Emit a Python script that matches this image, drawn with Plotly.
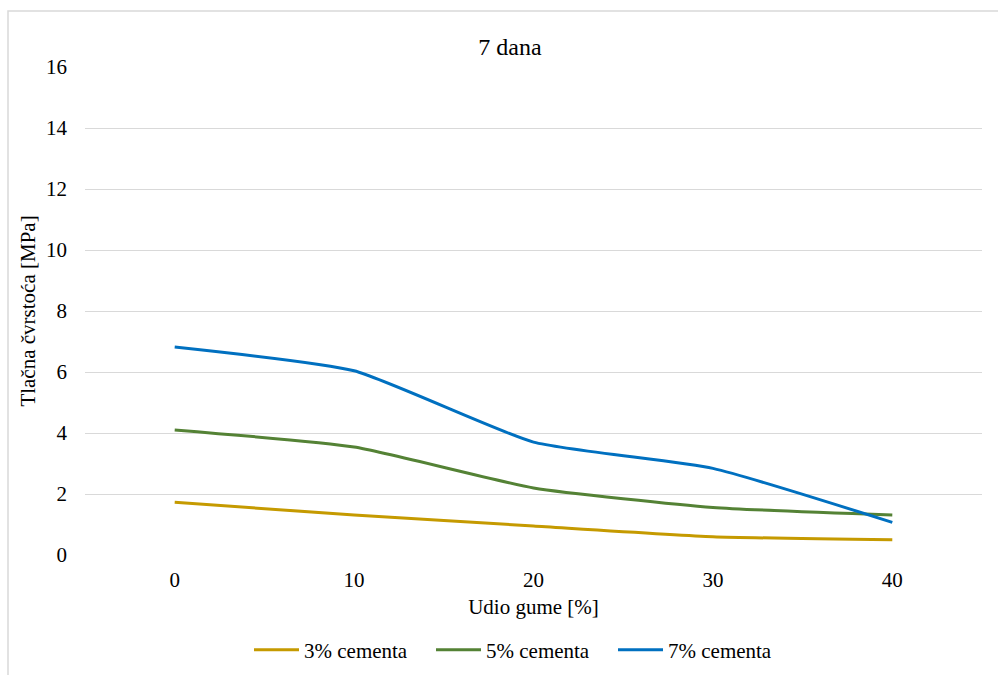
import plotly.graph_objects as go

udio_gume = [0, 10, 20, 30, 40]
cement_3 = [1.73, 1.31, 0.95, 0.60, 0.50]
cement_5 = [4.10, 3.54, 2.20, 1.56, 1.31]
cement_7 = [6.82, 6.04, 3.70, 2.84, 1.07]
series_names = ["3% cementa", "5% cementa", "7% cementa"]
series_colors = ["#C59A00", "#548235", "#0070C0"]
y_ticks = [0, 2, 4, 6, 8, 10, 12, 14, 16]

FONT = "Liberation Serif"
FS = 21

fig = go.Figure()
for name, vals, col in zip(series_names, [cement_3, cement_5, cement_7], series_colors):
    fig.add_trace(go.Scatter(
        x=udio_gume, y=vals, name=name, mode="lines",
        line=dict(color=col, width=3, shape="spline", smoothing=0.5),
    ))

L, R, T, B = 85, 16, 67, 120
W, H = 998, 675
pw, ph = W - L - R, H - T - B

fig.update_layout(
    width=W, height=H,
    margin=dict(l=L, r=R, t=T, b=B, pad=0, autoexpand=False),
    paper_bgcolor="white", plot_bgcolor="white",
    font=dict(family=FONT, size=FS, color="#000000"),
    title=dict(text="7 dana", x=510 / W, xanchor="center",
               xref="container", yref="container",
               y=1 - 47 / H, yanchor="middle",
               font=dict(family=FONT, size=24, color="#000000")),
    showlegend=True,
    legend=dict(orientation="h", xref="container", yref="container",
                x=522 / W, xanchor="center",
                y=1 - 650 / H, yanchor="middle",
                font=dict(family=FONT, size=FS, color="#000000"),
                itemwidth=45, entrywidth=122, tracegroupgap=0,
                bgcolor="rgba(0,0,0,0)"),
    xaxis=dict(range=[-5, 45], tickvals=udio_gume, ticktext=[str(v) for v in udio_gume],
               showgrid=False, zeroline=False, showline=False, ticks="",
               automargin=False,
               ticklabelstandoff=10,
               title=dict(text="Udio gume [%]", standoff=8,
                          font=dict(family=FONT, size=FS, color="#000000")),
               tickfont=dict(family=FONT, size=FS, color="#000000"), fixedrange=True),
    yaxis=dict(range=[0, 16], tickvals=y_ticks, ticktext=[str(v) for v in y_ticks],
               showgrid=True, gridcolor="#D9D9D9", gridwidth=1,
               zeroline=False, showline=False, ticks="",
               automargin=False,
               ticklabelstandoff=17,
               title=dict(text="Tlačna čvrstoća [MPa]", standoff=4,
                          font=dict(family=FONT, size=FS, color="#000000")),
               tickfont=dict(family=FONT, size=FS, color="#000000"), fixedrange=True),
)

# outer chart border (extends beyond right/bottom edge of view as in reference)
fig.add_shape(type="rect", xref="paper", yref="paper",
              x0=(8 - L) / pw, x1=(1010 - L) / pw,
              y0=(555 - 690) / ph, y1=(555 - 11) / ph,
              line=dict(color="#D9D9D9", width=1.5), fillcolor="rgba(0,0,0,0)",
              layer="below")

fig.write_html("out.html", config={"displayModeBar": False},
               post_script="document.body.style.margin='0';")
